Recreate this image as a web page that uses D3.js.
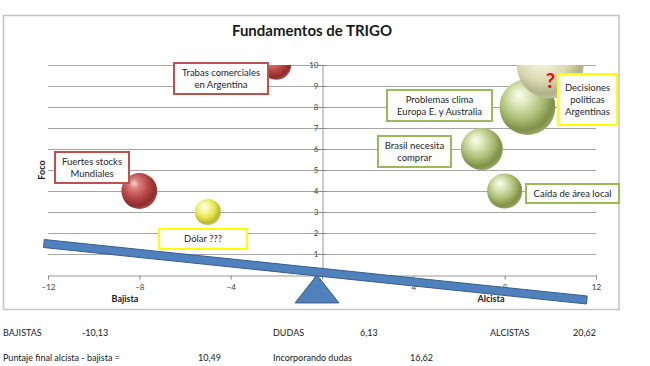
<!DOCTYPE html>
<html>
<head>
<meta charset="utf-8">
<script src="https://cdn.jsdelivr.net/npm/d3@7"></script>
<style>
  html, body { margin: 0; padding: 0; background: #fff; }
  svg { display: block; font-family: Lato, "Open Sans", sans-serif; }
</style>
</head>
<body>
<svg id="chart" width="650" height="366"></svg>
<script>
// ---------------- data ----------------
const categories = [
  "Trabas comerciales en Argentina",
  "Fuertes stocks Mundiales",
  "Dólar ???",
  "Problemas clima Europa E. y Australia",
  "Decisiones políticas Argentinas",
  "Brasil necesita comprar",
  "Caída de área local"
];
const xValues = [-2, -8, -5, 9, 10, 7, 8];      // Bajista (-) / Alcista (+)
const yValues = [10, 4, 3, 8, 10, 6, 4];         // Foco
const bubbleSizes = [2.2, 3.2, 1.7, 7.8, 11.2, 4.4, 3.1];
const tones = ["red", "red", "yellow", "green", "pale", "green", "green"];
const labelLines = [
  ["Trabas comerciales", "en Argentina"],
  ["Fuertes stocks", "Mundiales"],
  ["Dólar ???"],
  ["Problemas clima", "Europa E. y Australia"],
  ["Decisiones", "políticas", "Argentinas"],
  ["Brasil necesita", "comprar"],
  ["Caída de área local"]
];
const xTicks = [-12, -8, -4, 0, 4, 8, 12];
const yTicks = [0, 1, 2, 3, 4, 5, 6, 7, 8, 9, 10];
const summaryRow1 = [["BAJISTAS", "-10,13"], ["DUDAS", "6,13"], ["ALCISTAS", "20,62"]];
const summaryRow2 = [["Puntaje final alcista - bajista =", "10,49"], ["Incorporando dudas", "16,62"]];
// seesaw decoration (data units)
const plankEnds = [[-12.18, 1.5], [11.6, -1.19]];
const fulcrum = { apexX: -0.22, halfWidth: 0.96, depth: -1.33 };

// ---------------- layout ----------------
const W = 650, H = 366;
const plot = { left: 48, right: 596, top: 65, bottom: 275 };
// label boxes: [x0, y0, x1, y1] in px
const labelBoxes = [
  [174, 63, 268, 94],
  [55, 152, 129, 183],
  [159, 229, 247, 249],
  [387, 90, 492, 121],
  [558, 74, 617, 125],
  [378, 136, 451, 167],
  [526, 184, 619, 203]
];
const boxColor = { red: "#c0504d", green: "#9bbb59", yellow: "#ffff00", pale: "#ffff00" };

const svg = d3.select("#chart");
const x = d3.scaleLinear().domain([-12, 12]).range([plot.left, plot.right]);
const y = d3.scaleLinear().domain([0, 10]).range([plot.bottom, plot.top]);
const r = d3.scaleSqrt().domain([0, 11.2]).range([0, 33.5]);

const defs = svg.append("defs");
function grad(id, stops) {
  const g = defs.append("radialGradient").attr("id", id)
    .attr("cx", "42%").attr("cy", "38%").attr("r", "62%")
    .attr("fx", "35%").attr("fy", "28%");
  stops.forEach(s => g.append("stop").attr("offset", s[0]).attr("stop-color", s[1]));
}
grad("g-red", [[0, "#f6d2d2"], [0.22, "#d98080"], [0.6, "#b64444"], [0.88, "#8e2b2b"], [1, "#a24a4a"]]);
grad("g-green", [[0, "#fbfdf0"], [0.25, "#dfe9bd"], [0.6, "#aebf78"], [0.88, "#7f9148"], [1, "#93a262"]]);
grad("g-yellow", [[0, "#ffffff"], [0.25, "#f8f8b0"], [0.6, "#e6e650"], [0.9, "#b8b830"], [1, "#c8c860"]]);
grad("g-pale", [[0, "#ffffff"], [0.3, "#f1f1d8"], [0.65, "#d8d8b2"], [0.9, "#b0b08a"], [1, "#c0c09c"]]);

defs.append("clipPath").attr("id", "plotClip").append("rect")
  .attr("x", plot.left).attr("y", plot.top)
  .attr("width", plot.right - plot.left).attr("height", plot.bottom - plot.top);

// frame
svg.append("rect").attr("x", 3.5).attr("y", 15.5).attr("width", 615.5).attr("height", 294)
  .attr("fill", "#fff").attr("stroke", "#c4c4c4").attr("stroke-width", 1.5);

// title
svg.append("text").attr("x", 312).attr("y", 36).attr("text-anchor", "middle")
  .attr("font-size", 15).attr("font-weight", "bold").attr("fill", "#1a1a1a")
  .text("Fundamentos de TRIGO");

// gridlines
svg.append("g").selectAll("line").data(yTicks.filter(d => d > 0)).join("line")
  .attr("x1", plot.left).attr("x2", plot.right)
  .attr("y1", d => Math.round(y(d)) + 0.5).attr("y2", d => Math.round(y(d)) + 0.5)
  .attr("stroke", "#a6a6a6").attr("stroke-width", 1);

// y axis (at x=0)
const yAxis = svg.append("g").attr("transform", `translate(${Math.round(x(0)) + 0.5},0)`)
  .call(d3.axisLeft(y).tickValues(yTicks).tickSize(4).tickSizeOuter(0));
yAxis.selectAll(".tick line").attr("x2", 4).attr("x1", -4).attr("stroke", "#888");
yAxis.select(".domain").attr("stroke", "#999");
yAxis.selectAll("text").attr("font-size", 8).attr("fill", "#404040")
  .attr("font-family", "Lato, sans-serif").attr("x", -4).attr("dy", "0.35em");

// x axis (at y=0)
const xAxis = svg.append("g").attr("transform", `translate(0,${Math.round(y(0)) + 0.5})`)
  .call(d3.axisBottom(x).tickValues(xTicks).tickSize(4).tickSizeOuter(0));
xAxis.select(".domain").attr("stroke", "#999");
xAxis.selectAll(".tick line").attr("stroke", "#888");
xAxis.selectAll("text").attr("font-size", 8).attr("fill", "#404040")
  .attr("font-family", "Lato, sans-serif").attr("dy", "0.9em");

// axis titles
svg.append("text").attr("x", 125).attr("y", 302).attr("text-anchor", "middle")
  .attr("font-size", 9).attr("font-weight", "bold").attr("fill", "#1a1a1a").text("Bajista");
svg.append("text").attr("x", 491).attr("y", 302).attr("text-anchor", "middle")
  .attr("font-size", 9).attr("font-weight", "bold").attr("fill", "#1a1a1a").text("Alcista");
svg.append("text").attr("transform", "translate(45,170) rotate(-90)").attr("text-anchor", "middle")
  .attr("font-size", 9).attr("font-weight", "bold").attr("fill", "#1a1a1a").text("Foco");

// fulcrum triangle
const tri = [
  [x(fulcrum.apexX), y(0)],
  [x(fulcrum.apexX + fulcrum.halfWidth), y(fulcrum.depth)],
  [x(fulcrum.apexX - fulcrum.halfWidth), y(fulcrum.depth)]
];
svg.append("path").attr("d", d3.line()(tri) + "Z")
  .attr("fill", "#4f81bd").attr("stroke", "#385d8a").attr("stroke-width", 1);

// plank
const p0 = [x(plankEnds[0][0]), y(plankEnds[0][1])];
const p1 = [x(plankEnds[1][0]), y(plankEnds[1][1])];
const dx = p1[0] - p0[0], dy = p1[1] - p0[1], len = Math.hypot(dx, dy);
const nx = -dy / len * 4, ny = dx / len * 4;
const plank = [[p0[0] + nx, p0[1] + ny], [p1[0] + nx, p1[1] + ny], [p1[0] - nx, p1[1] - ny], [p0[0] - nx, p0[1] - ny]];
svg.append("path").attr("d", d3.line()(plank) + "Z")
  .attr("fill", "#4f81bd").attr("stroke", "#385d8a").attr("stroke-width", 1);

// bubbles
const data = categories.map((c, i) => ({ c, x: xValues[i], y: yValues[i], s: bubbleSizes[i], tone: tones[i], i }));
const drawOrder = [1, 2, 0, 6, 5, 3, 4];
svg.append("g").attr("clip-path", "url(#plotClip)")
  .selectAll("circle").data(drawOrder.map(i => data[i])).join("circle")
  .attr("cx", d => x(d.x)).attr("cy", d => y(d.y)).attr("r", d => r(d.s))
  .attr("fill", d => `url(#g-${d.tone})`);

// question mark on "Decisiones políticas"
svg.append("text").attr("x", x(xValues[4])).attr("y", y(yValues[4]) + 23)
  .attr("text-anchor", "middle").attr("font-size", 20).attr("font-weight", "bold")
  .attr("fill", "#ff0000").text("?");

// label boxes
const lab = svg.append("g");
data.forEach((d, i) => {
  const b = labelBoxes[i];
  lab.append("rect").attr("x", b[0]).attr("y", b[1]).attr("width", b[2] - b[0]).attr("height", b[3] - b[1])
    .attr("fill", "#fff").attr("stroke", boxColor[d.tone]).attr("stroke-width", 2);
  const lines = labelLines[i];
  const lh = 12;
  const cy = (b[1] + b[3]) / 2 - (lines.length - 1) * lh / 2;
  const t = lab.append("text").attr("text-anchor", "middle").attr("font-size", 9.5).attr("fill", "#262626");
  lines.forEach((ln, k) => {
    t.append("tspan").attr("x", (b[0] + b[2]) / 2).attr("y", cy + k * lh).attr("dy", "0.35em").text(ln);
  });
});

// summary rows
const row1X = [[3, 82], [273, 360], [490, 573]];
const row2X = [[3, 198], [273, 410]];
summaryRow1.forEach((p, i) => {
  svg.append("text").attr("x", row1X[i][0]).attr("y", 333).attr("dy", "0.35em").attr("font-size", 9).attr("fill", "#1a1a1a").text(p[0]);
  svg.append("text").attr("x", row1X[i][1]).attr("y", 333).attr("dy", "0.35em").attr("font-size", 9).attr("fill", "#1a1a1a").text(p[1]);
});
summaryRow2.forEach((p, i) => {
  svg.append("text").attr("x", row2X[i][0]).attr("y", 358).attr("dy", "0.35em").attr("font-size", 9).attr("fill", "#1a1a1a").text(p[0]);
  svg.append("text").attr("x", row2X[i][1]).attr("y", 358).attr("dy", "0.35em").attr("font-size", 9).attr("fill", "#1a1a1a").text(p[1]);
});
</script>
</body>
</html>
